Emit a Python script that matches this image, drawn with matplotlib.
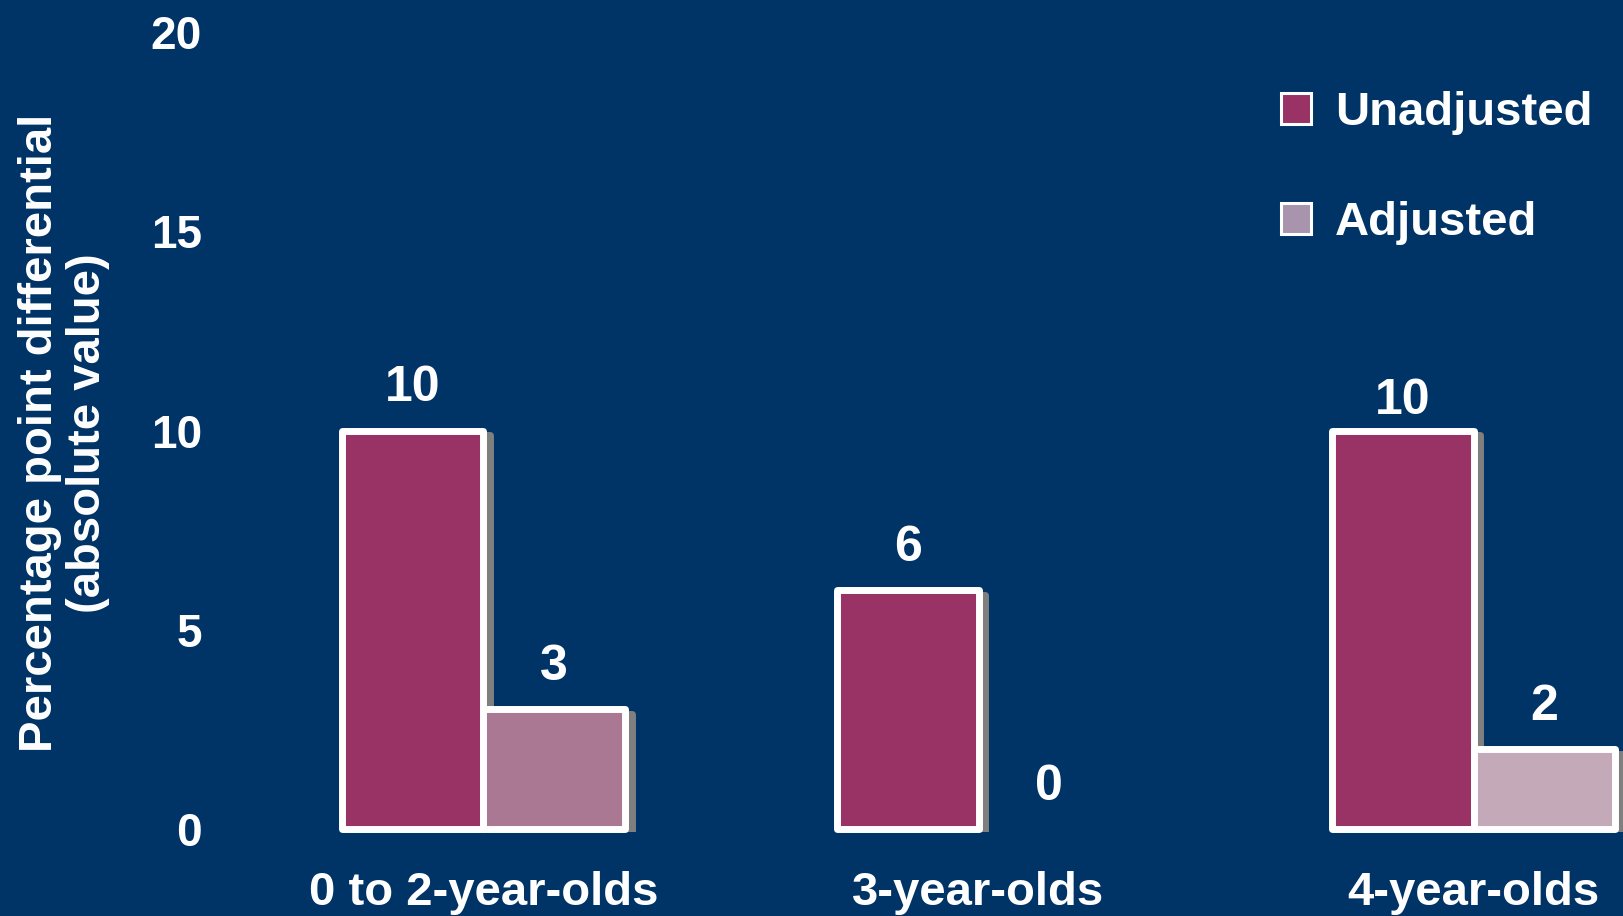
import matplotlib
matplotlib.use("Agg")
import matplotlib.pyplot as plt
from matplotlib.patches import Patch, Rectangle
from matplotlib.transforms import offset_copy
import numpy as np

categories = ["0 to 2-year-olds", "3-year-olds", "4-year-olds"]
unadjusted = [10, 6, 10]
adjusted = [3, 0, 2]
series_names = ["Unadjusted", "Adjusted"]
y_ticks = [0, 5, 10, 15, 20]
y_label = "Percentage point differential\n(absolute value)"

# styling
BG = "#003366"
UNADJ_COLOR = "#993366"
ADJ_COLORS = ["#AB7893", "#B892A6", "#C4AAB8"]
ADJ_LEGEND_COLOR = "#A894AC"
SHADOW = "#7F7F7F"
plt.rcParams["font.family"] = ["Liberation Sans", "DejaVu Sans"]
plt.rcParams["font.weight"] = "bold"

W, H = 1624, 916
fig = plt.figure(figsize=(W / 100, H / 100), dpi=100, facecolor=BG)
ax = fig.add_axes([215 / W, 87 / H, 1409 / W, 797 / H])
ax.set_facecolor(BG)
for s in ax.spines.values():
    s.set_visible(False)

x = np.arange(len(categories))
bw = 0.285
lw = 5

shadow_tr = offset_copy(ax.transData, fig=fig, x=5, y=-3.5, units="points")
# shadows stop just under the baseline
shadow_clip = Rectangle((0, (H - 832) / H), 1, 1, transform=fig.transFigure,
                        visible=False)
fig.add_artist(shadow_clip)

def draw(xpos, vals, colors):
    sh = ax.bar(xpos, vals, bw, color=SHADOW, edgecolor=SHADOW, linewidth=lw,
                transform=shadow_tr, zorder=1)
    br = ax.bar(xpos, vals, bw, color=colors, edgecolor="white", linewidth=lw,
                zorder=2, clip_on=False)
    for a, b, v in zip(sh, br, vals):
        a.set_joinstyle("round")
        b.set_joinstyle("round")
        a.set_clip_path(shadow_clip)
        if v == 0:
            a.set_visible(False)
            b.set_visible(False)
    return br

draw(x - bw / 2, unadjusted, UNADJ_COLOR)
draw(x + bw / 2, adjusted, ADJ_COLORS)

# value labels above each bar
label_gap = [[30.5, 30.5, 21.5], [30.5, 30.5, 30.5]]
for si, vals in enumerate([unadjusted, adjusted]):
    xs = x - bw / 2 if si == 0 else x + bw / 2
    for i, (xx, v) in enumerate(zip(xs, vals)):
        ax.annotate(f"{v}", (xx, v), xytext=(0, label_gap[si][i]),
                    textcoords="offset points", ha="center", va="center",
                    color="white", fontsize=36, fontweight="bold")

ax.set_xlim(-0.5424, 2.304)
ax.set_ylim(0, 20)
ax.set_yticks(y_ticks)
ax.set_yticklabels([str(t) for t in y_ticks])
ax.set_xticks(x)
ax.set_xticklabels(categories)
ax.tick_params(axis="y", length=0, pad=9.5, labelsize=33, labelcolor="white")
ax.tick_params(axis="x", length=0, pad=30, labelsize=34, labelcolor="white")
for t in ax.get_xticklabels() + ax.get_yticklabels():
    t.set_fontweight("bold")

fig.text(64 / W, 1 - 433 / H, y_label, rotation=90, ha="center", va="center",
         multialignment="center", color="white", fontsize=34, fontweight="bold",
         linespacing=1.12)

handles = [Patch(facecolor=UNADJ_COLOR, edgecolor="white", linewidth=2.2),
           Patch(facecolor=ADJ_LEGEND_COLOR, edgecolor="white", linewidth=2.2)]
leg = ax.legend(handles, series_names, loc="upper left",
                bbox_to_anchor=(1281 / W, 1 - 91 / H), bbox_transform=fig.transFigure,
                frameon=False, fontsize=34, handlelength=0.64, handleheight=0.64,
                handletextpad=0.5, labelspacing=1.40, borderpad=0, borderaxespad=0)
for t in leg.get_texts():
    t.set_color("white")
    t.set_fontweight("bold")

fig.savefig("out.png", dpi=100, facecolor=BG)
